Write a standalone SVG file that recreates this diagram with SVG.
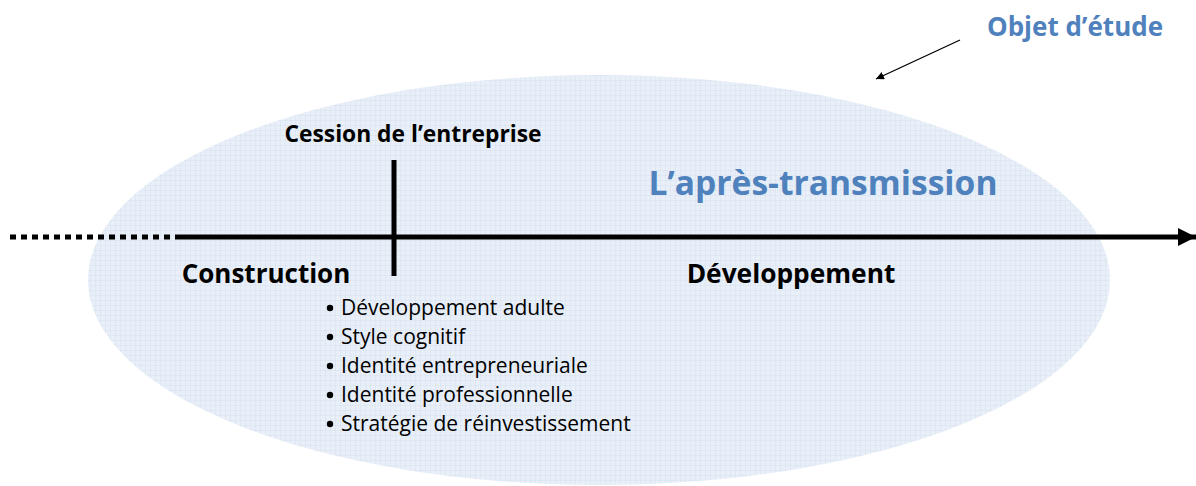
<svg xmlns="http://www.w3.org/2000/svg" width="1196" height="486" viewBox="0 0 1196 486">
<style>
.b{font-family:"Open Sans","Liberation Sans",sans-serif;font-weight:bold;fill:#000}
.blue{font-family:"Open Sans","Liberation Sans",sans-serif;fill:#4F81BD;font-weight:bold}
.li{font-family:"Open Sans","Liberation Sans",sans-serif;font-size:21px;fill:#000}
.dot{fill:#000}
</style>
<defs>
<pattern id="grid" width="5" height="5" patternUnits="userSpaceOnUse">
<rect width="5" height="5" fill="#E8EFF8"/>
<path d="M0 0H5M0 0V5" stroke="#D3DEEC" stroke-width="0.8"/>
</pattern>
<marker id="ah" markerWidth="8" markerHeight="8" refX="8" refY="4" orient="auto" markerUnits="userSpaceOnUse">
<path d="M0 0L8 4L0 8Z" fill="#000"/>
</marker>
<marker id="big" markerWidth="18" markerHeight="18" refX="18" refY="9" orient="auto" markerUnits="userSpaceOnUse">
<path d="M0 0L18 9L0 18Z" fill="#000"/>
</marker>
</defs>
<g id="objet">
<ellipse cx="599" cy="280" rx="511" ry="205" fill="url(#grid)"/>
</g>
<g id="connectors">
<line x1="10" y1="237" x2="176" y2="237" stroke="#000" stroke-width="5" stroke-dasharray="6 5"/>
<line x1="176" y1="237" x2="1196" y2="237" stroke="#000" stroke-width="5" marker-end="url(#big)"/>
<line x1="394" y1="160" x2="394" y2="276" stroke="#000" stroke-width="5"/>
<line x1="960" y1="40" x2="876" y2="79" stroke="#000" stroke-width="1.3" marker-end="url(#ah)"/>
</g>
<g id="label-objet"><text class="blue" x="1075" y="36" font-size="26" text-anchor="middle">Objet d’étude</text></g>
<g id="cession"><text class="b" x="413" y="142" font-size="22.8" text-anchor="middle">Cession de l’entreprise</text></g>
<g id="apres"><text class="blue" x="823" y="195" font-size="33.6" text-anchor="middle" font-weight="600">L’après-transmission</text></g>
<g id="construction"><text class="b" x="266" y="283" font-size="26" text-anchor="middle">Construction</text></g>
<g id="developpement"><text class="b" x="791" y="283" font-size="26.3" text-anchor="middle">Développement</text></g>
<g id="list">
<circle class="dot" cx="330" cy="308" r="3.2"/>
<text class="li" x="341" y="315">Développement adulte</text>
<circle class="dot" cx="330" cy="337" r="3.2"/>
<text class="li" x="341" y="344">Style cognitif</text>
<circle class="dot" cx="330" cy="366" r="3.2"/>
<text class="li" x="341" y="373">Identité entrepreneuriale</text>
<circle class="dot" cx="330" cy="395" r="3.2"/>
<text class="li" x="341" y="402">Identité professionnelle</text>
<circle class="dot" cx="330" cy="424" r="3.2"/>
<text class="li" x="341" y="431">Stratégie de réinvestissement</text>
</g>
</svg>
